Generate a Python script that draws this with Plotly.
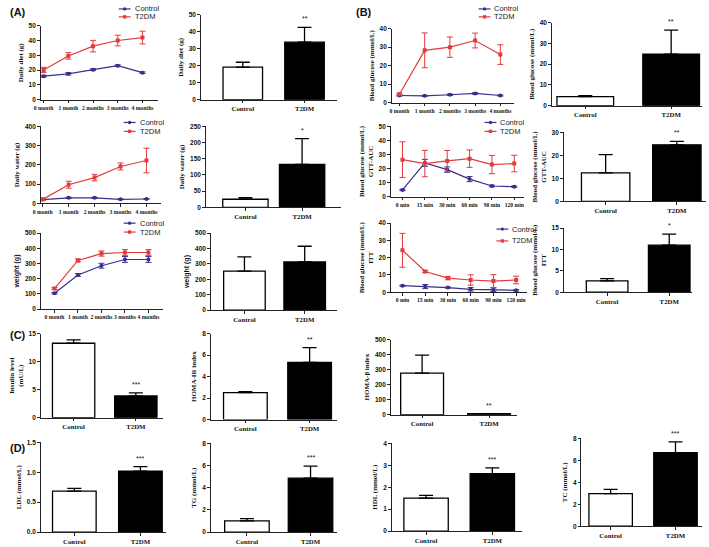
import plotly.graph_objects as go

# ---- data ----
months = ["0 month", "1 month", "2 months", "3 months", "4 months"]
mins = ["0 min", "15 min", "30 min", "60 min", "90 min", "120 min"]
groups = ["Control", "T2DM"]

diet_ctrl = [15.9, 17.5, 20.3, 23.0, 18.3]
diet_ctrl_err = [0.6, 0.8, 0.6, 0.6, 0.5]
diet_t2dm = [20.1, 29.6, 36.2, 40.0, 42.0]
diet_t2dm_err = [1.8, 2.2, 3.9, 3.6, 4.3]
diet_bar = [19.2, 33.9]
diet_bar_err = [2.9, 8.7]

water_ctrl = [20, 29, 29, 21, 23]
water_ctrl_err = [3, 3, 3, 2, 2]
water_t2dm = [21, 97, 134, 192, 223]
water_t2dm_err = [4, 18, 17, 18, 64]
water_bar = [25, 133]
water_bar_err = [5, 79]

weight_ctrl = [104, 224, 285, 326, 326]
weight_ctrl_err = [5, 9, 16, 19, 19]
weight_t2dm = [135, 320, 365, 372, 372]
weight_t2dm_err = [6, 10, 17, 19, 19]
weight_bar = [252, 312]
weight_bar_err = [93, 102]

glu_ctrl = [3.9, 3.7, 4.3, 5.0, 3.9]
glu_ctrl_err = [0.3, 0.3, 0.4, 0.4, 0.3]
glu_t2dm = [4.6, 28.3, 30.0, 33.6, 26.0]
glu_t2dm_err = [0.6, 9.4, 5.5, 4.0, 5.3]
glu_bar = [4.4, 24.8]
glu_bar_err = [0.5, 11.6]

gtt_ctrl = [4.7, 24.0, 19.2, 12.4, 7.5, 7.0]
gtt_ctrl_err = [0.5, 2.5, 1.9, 1.8, 0.6, 0.5]
gtt_t2dm = [26.3, 23.5, 25.4, 27.0, 22.8, 23.5]
gtt_t2dm_err = [12.7, 9.4, 7.4, 6.2, 6.5, 5.9]
gtt_bar = [12.4, 24.6]
gtt_bar_err = [7.9, 1.5]

itt_ctrl = [3.8, 3.3, 2.7, 1.7, 1.5, 1.1]
itt_ctrl_err = [0.3, 1.2, 0.3, 1.0, 1.0, 0.4]
itt_t2dm = [24.3, 12.0, 8.2, 7.1, 6.5, 7.1]
itt_t2dm_err = [9.8, 0.6, 1.0, 3.0, 3.7, 2.2]
itt_bar = [2.65, 11.0]
itt_bar_err = [0.53, 2.6]

insulin = [13.3, 3.87]
insulin_err = [0.6, 0.55]
homa_ir = [2.52, 5.32]
homa_ir_err = [0.08, 1.38]
homa_b = [277, 6.5]
homa_b_err = [120, 1]
ldl = [0.685, 1.02]
ldl_err = [0.045, 0.075]
tg = [1.02, 4.86]
tg_err = [0.2, 1.08]
hdl = [1.5, 2.62]
hdl_err = [0.13, 0.26]
tc = [2.96, 6.7]
tc_err = [0.39, 0.98]

sig_diet, sig_water, sig_weight = "**", "*", ""
sig_glu, sig_gtt, sig_itt = "**", "**", "*"
sig_insulin, sig_ir, sig_b = "***", "**", "**"
sig_ldl, sig_tg, sig_hdl, sig_tc = "***", "***", "***", "***"

# ---- layout helpers ----
W, H = 709, 547
NAVY = "#3a2d8c"
RED = "#e23b3b"
SERIF = "Liberation Serif"
SANS = "Liberation Sans"

fig = go.Figure()
shapes, annotations, axes = [], [], {}


def axis_setup(n, box, xrange, yrange, dtick, ytitle, cats, tfont=SERIF, fmt=None, xsize=6.8):
    x0, x1, yt, yb = box
    xa = dict(domain=[x0 / W, x1 / W], anchor=f"y{n}", range=xrange, type="category",
              showline=True, linecolor="#222", linewidth=1, ticks="outside", ticklen=2.5,
              tickcolor="#222", showgrid=False, zeroline=False, tickangle=0,
              tickfont=dict(family=SERIF, size=xsize, color="#111", weight="bold"),
              categoryorder="array", categoryarray=cats)
    ya = dict(domain=[1 - yb / H, 1 - yt / H], anchor=f"x{n}", range=yrange, dtick=dtick,
              showline=True, linecolor="#222", linewidth=1, ticks="outside", ticklen=2.5,
              tickcolor="#222", showgrid=False, zeroline=False, tickformat=fmt,
              tickfont=dict(family=SANS, size=6.5, color="#111", weight="bold"),
              title=dict(text=ytitle, standoff=4,
                         font=dict(family=tfont, size=7, color="#111", weight="bold")))
    key = "" if n == 1 else str(n)
    axes["xaxis" + key] = xa
    axes["yaxis" + key] = ya


def line_panel(n, box, xrange, yrange, dtick, ytitle, cats, c, ce, t, te, key, tfont=SERIF):
    axis_setup(n, box, xrange, yrange, dtick, ytitle, cats, tfont, xsize=5.6)
    for vals, errs, col, sym in [(c, ce, NAVY, "circle"), (t, te, RED, "square")]:
        fig.add_trace(go.Scatter(
            x=cats, y=vals, mode="lines+markers", xaxis=f"x{n}", yaxis=f"y{n}",
            line=dict(color=col, width=1.2), marker=dict(color=col, size=4, symbol=sym),
            error_y=dict(type="data", array=errs, color=col, thickness=1, width=3),
            showlegend=False))
    # legend key drawn beside the panel
    kx, ky1, ky2 = key
    for ky, col, sym, lab in [(ky1, NAVY, "circle", "Control"), (ky2, RED, "rect", "T2DM")]:
        shapes.append(dict(type="line", xref="paper", yref="paper", x0=kx / W, x1=(kx + 12) / W,
                           y0=1 - ky / H, y1=1 - ky / H, line=dict(color=col, width=1.2)))
        shapes.append(dict(type=sym, xref="paper", yref="paper", x0=(kx + 4.3) / W,
                           x1=(kx + 7.7) / W, y0=1 - (ky + 1.7) / H, y1=1 - (ky - 1.7) / H,
                           fillcolor=col, line=dict(color=col, width=0)))
        annotations.append(dict(xref="paper", yref="paper", x=(kx + 14) / W, y=1 - ky / H,
                                text=lab, showarrow=False, xanchor="left", yanchor="middle",
                                font=dict(family=SANS, size=7.5, color="#222")))


def bar_panel(n, box, xrange, yrange, dtick, ytitle, vals, errs, width, sig, tfont=SERIF, fmt=None):
    axis_setup(n, box, xrange, yrange, dtick, ytitle, groups, tfont, fmt)
    fig.add_trace(go.Bar(
        x=groups, y=vals, xaxis=f"x{n}", yaxis=f"y{n}", width=width,
        marker=dict(color=["white", "black"], line=dict(color="black", width=1.3)),
        error_y=dict(type="data", array=errs, arrayminus=[0, 0], symmetric=False,
                     color="black", thickness=1.3, width=7),
        showlegend=False))
    if sig:
        annotations.append(dict(xref=f"x{n}", yref=f"y{n}", x=1, y=vals[1] + errs[1],
                                text=sig, showarrow=False, yanchor="bottom", yshift=3,
                                font=dict(family=SANS, size=7, color="#111")))


GLU = "Blood glucose (mmol/L)"

line_panel(1, (33, 152, 22, 97), [-0.12, 4.64], [0, 50], 10, "Daily diet (g)", months,
           diet_ctrl, diet_ctrl_err, diet_t2dm, diet_t2dm_err, (112, 5, 13))
bar_panel(2, (195, 333, 11, 97), [-0.68, 1.53], [0, 50], 10, "Daily diet (g)",
          diet_bar, diet_bar_err, 0.64, sig_diet)
line_panel(3, (388, 512, 25, 100), [-0.31, 4.55], [0, 40], 10, GLU, months,
           glu_ctrl, glu_ctrl_err, glu_t2dm, glu_t2dm_err, (476, 5, 13))
bar_panel(4, (550, 702, 19, 103), [-0.39, 1.36], [0, 40], 10, GLU,
          glu_bar, glu_bar_err, 0.66, sig_glu)

line_panel(5, (33, 155, 124, 202), [-0.08, 4.57], [0, 400], 100, "Daily water (g)", months,
           water_ctrl, water_ctrl_err, water_t2dm, water_t2dm_err, (117, 120, 129))
bar_panel(6, (200, 337, 124, 206), [-0.7, 1.69], [0, 250], 50, "Daily water (g)",
          water_bar, water_bar_err, 0.8, sig_water)
line_panel(7, (387, 522, 124, 195), [-0.53, 5.44], [0, 50], 10, GLU + "<br>GTT-AUC", mins,
           gtt_ctrl, gtt_ctrl_err, gtt_t2dm, gtt_t2dm_err, (482, 120, 129))
bar_panel(8, (562, 706, 130, 200), [-0.59, 1.41], [0, 30], 10, GLU + "<br>GTT-AUC",
          gtt_bar, gtt_bar_err, 0.68, sig_gtt)

line_panel(9, (33, 157, 232, 309), [-0.59, 4.63], [0, 500], 100, "weight (g)", months,
           weight_ctrl, weight_ctrl_err, weight_t2dm, weight_t2dm_err, (117, 222, 231), SANS)
bar_panel(10, (205, 333, 232, 310), [-0.56, 1.54], [0, 500], 100, "weight (g)",
          weight_bar, weight_bar_err, 0.69, sig_weight, SANS)
line_panel(11, (387, 525, 222, 292), [-0.52, 5.48], [0, 40], 10, GLU + "<br>ITT", mins,
           itt_ctrl, itt_ctrl_err, itt_t2dm, itt_t2dm_err, (494, 228, 240))
bar_panel(12, (562, 692, 227, 292), [-0.7, 1.37], [0, 15], 5, GLU + "<br>ITT",
          itt_bar, itt_bar_err, 0.67, sig_itt)

bar_panel(13, (33, 157, 334, 419), [-0.53, 1.44], [0, 15], 5, "Insulin level<br>(mU/L)",
          insulin, insulin_err, 0.68, sig_insulin)
bar_panel(14, (205, 333, 334, 421), [-0.54, 1.43], [0, 8], 2, "HOMA-IR index",
          homa_ir, homa_ir_err, 0.68, sig_ir)
bar_panel(15, (387, 515, 340, 416), [-0.47, 1.42], [0, 500], 100, "HOMA-β index",
          homa_b, homa_b_err, 0.64, sig_b)

bar_panel(16, (33, 160, 444, 535), [-0.51, 1.39], [0, 1.5], 0.5, "LDL (mmol/L)",
          ldl, ldl_err, 0.66, sig_ldl, fmt=".1f")
bar_panel(17, (205, 333, 445, 535), [-0.57, 1.42], [0, 8], 2, "TG (mmol/L)",
          tg, tg_err, 0.7, sig_tg)
bar_panel(18, (388, 520, 445, 534), [-0.52, 1.45], [0, 4], 1, "HDL (mmol/L)",
          hdl, hdl_err, 0.67, sig_hdl)
bar_panel(19, (580, 702, 440, 529), [-0.45, 1.41], [0, 8], 2, "TC (mmol/L)",
          tc, tc_err, 0.67, sig_tc)

for lab, lx, ly in [("(A)", 0, 8), ("(B)", 350, 8), ("(C)", 0, 335), ("(D)", 0, 450)]:
    annotations.append(dict(xref="paper", yref="paper", x=lx / W, y=1 - ly / H, text=lab,
                            showarrow=False, xanchor="left", yanchor="middle",
                            font=dict(family=SANS, size=11, color="#111", weight="bold")))

fig.update_layout(
    width=W, height=H, margin=dict(l=0, r=0, t=0, b=0),
    paper_bgcolor="white", plot_bgcolor="white",
    shapes=shapes, annotations=annotations, **axes)

# page body has a default margin; drop it so the figure sits at the window corner
fig.write_html("out.html", config={"displayModeBar": False},
               post_script="document.body.style.margin='0';")
